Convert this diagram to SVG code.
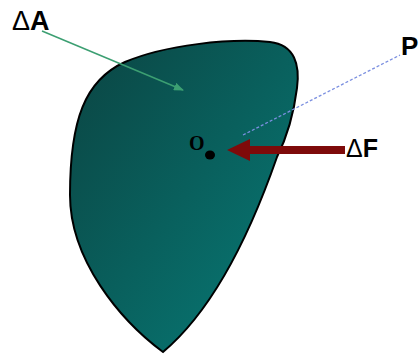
<svg xmlns="http://www.w3.org/2000/svg" width="419" height="354" viewBox="0 0 419 354">
<style>
.lbl{font-family:"Liberation Sans",Arial,sans-serif;font-weight:bold;fill:#000}
.delta{font-weight:normal}
</style>
<defs>
<linearGradient id="g" x1="0" y1="0" x2="1" y2="1">
<stop offset="0" stop-color="#0b4442"/>
<stop offset="1" stop-color="#077c78"/>
</linearGradient>
<marker id="ga" markerWidth="10" markerHeight="8" refX="9" refY="4" orient="auto" markerUnits="userSpaceOnUse" viewBox="0 0 10 8">
<path d="M0,0 L10,4 L0,8 Z" fill="#3c9f72"/>
</marker>
</defs>
<g id="body">
<path d="M163,352 C120,320 70,260 70,195 C70,120 85,80 125,62 C165,45 230,38 270,42 C295,45 300,65 297,88 C294,112 288,135 277,157 C262,200 225,300 163,352 Z" fill="url(#g)" stroke="#000" stroke-width="2"/>
</g>
<g id="connectors">
<line x1="243" y1="135" x2="400" y2="55" stroke="#7b8fe0" stroke-width="1.3" stroke-dasharray="3,2"/>
<line x1="42" y1="31" x2="183" y2="90" stroke="#3c9f72" stroke-width="1.5" marker-end="url(#ga)"/>
<path d="M345,146 L250,146 L250,139 L227,150 L250,161 L250,154 L345,154 Z" fill="#7e0a0a"/>
</g>
<g id="point-O">
<text x="189" y="150" font-family="'Liberation Serif',serif" font-size="20" font-weight="bold">O</text>
<ellipse cx="210" cy="155" rx="5" ry="4.5" fill="#000"/>
</g>
<g id="label-dA"><text class="lbl" x="12" y="30" font-size="27"><tspan class="delta">Δ</tspan>A</text></g>
<g id="label-P"><text class="lbl" x="401" y="55" font-size="26">P</text></g>
<g id="label-dF"><text class="lbl" x="346" y="157" font-size="25"><tspan class="delta">Δ</tspan>F</text></g>
</svg>
